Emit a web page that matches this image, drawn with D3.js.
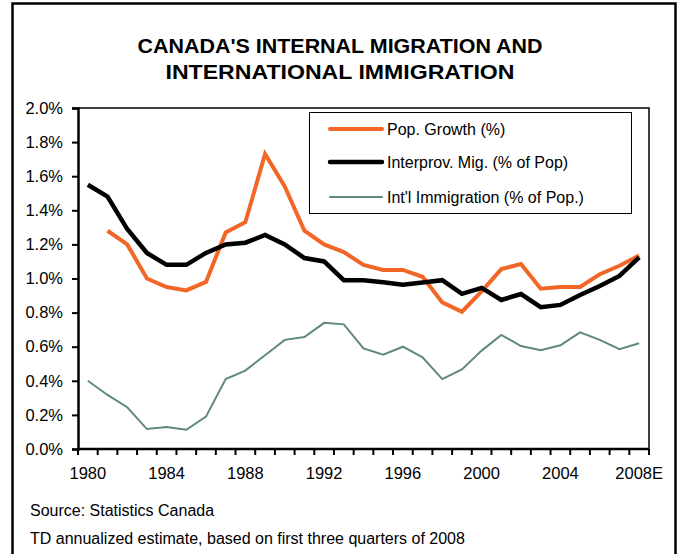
<!DOCTYPE html>
<html>
<head>
<meta charset="utf-8">
<script src="https://cdnjs.cloudflare.com/ajax/libs/d3/7.8.5/d3.min.js"></script>
<style>
  body { margin: 0; background: #fff; }
  svg text { font-family: "Liberation Sans", Arial, sans-serif; }
</style>
</head>
<body>
<div id="chart"></div>
<script>
// years on the x axis (band categories)
const years = d3.range(1980, 2009)
const xLabels = ["1980", "1984", "1988", "1992", "1996", "2000", "2004", "2008E"]
const yTicks = [0, 0.2, 0.4, 0.6, 0.8, 1.0, 1.2, 1.4, 1.6, 1.8, 2.0]

// values in % (null = no data)
const popGrowth = [null, 1.28, 1.20, 1.00, 0.95, 0.93, 0.98, 1.27, 1.33, 1.73, 1.54, 1.28, 1.20,
  1.155, 1.08, 1.05, 1.05, 1.01, 0.86, 0.805, 0.925, 1.055, 1.085, 0.94, 0.95, 0.95, 1.025, 1.075, 1.135]
const interprov = [1.55, 1.48, 1.29, 1.15, 1.08, 1.08, 1.15, 1.20, 1.21, 1.255, 1.20, 1.12, 1.10,
  0.99, 0.99, 0.978, 0.963, 0.977, 0.99, 0.91, 0.945, 0.874, 0.909, 0.832, 0.845, 0.903, 0.956, 1.015, 1.124]
const immigration = [0.40, 0.317, 0.245, 0.117, 0.129, 0.113, 0.19, 0.41, 0.46, 0.55, 0.64, 0.657, 0.74,
  0.731, 0.59, 0.553, 0.60, 0.538, 0.41, 0.467, 0.577, 0.669, 0.604, 0.58, 0.608, 0.684, 0.64, 0.585, 0.62]

const seriesNames = ["Pop. Growth (%)", "Interprov. Mig. (% of Pop)", "Int'l Immigration (% of Pop.)"]
const seriesValues = [popGrowth, interprov, immigration]
const colors = ["#f26726", "#000000", "#5f8a7b"]
const widths = [4, 4.5, 2]

var W = 678, H = 554
var plot = { left: 78, top: 108, right: 649, bottom: 449 }

var svg = d3.select("#chart").append("svg")
  .attr("width", W).attr("height", H)

// outer frame
svg.append("rect")
  .attr("x", 12.5).attr("y", 3.5)
  .attr("width", 663).attr("height", 570)
  .attr("fill", "none").attr("stroke", "#000").attr("stroke-width", 2.5)

// title
svg.append("text").attr("x", 340).attr("y", 53).attr("text-anchor", "middle")
  .attr("font-size", "21px").attr("font-weight", "bold")
  .attr("textLength", 405).attr("lengthAdjust", "spacingAndGlyphs")
  .text("CANADA'S INTERNAL MIGRATION AND")
svg.append("text").attr("x", 340).attr("y", 79).attr("text-anchor", "middle")
  .attr("font-size", "21px").attr("font-weight", "bold")
  .attr("textLength", 349).attr("lengthAdjust", "spacingAndGlyphs")
  .text("INTERNATIONAL IMMIGRATION")

var xScale = d3.scaleBand().domain(years).range([plot.left, plot.right])
var yScale = d3.scaleLinear().domain([0, 2]).range([plot.bottom, plot.top])
var step = xScale.bandwidth()

// plot frame (top & right)
svg.append("path")
  .attr("d", `M${plot.left},${plot.top}H${plot.right}V${plot.bottom}`)
  .attr("fill", "none").attr("stroke", "#000").attr("stroke-width", 1.5)

// y axis
var yAxis = d3.axisLeft(yScale).tickValues(yTicks).tickSize(6)
  .tickFormat(d => d.toFixed(1) + "%")
var gy = svg.append("g").attr("transform", `translate(${plot.left},0)`).call(yAxis)
gy.select(".domain").attr("stroke-width", 2.5)
gy.selectAll(".tick line").attr("stroke-width", 2)
gy.selectAll(".tick text").attr("font-size", "16.5px").attr("fill", "#000").attr("x", -15)
  .attr("font-family", "Liberation Sans, Arial, sans-serif")

// x axis: ticks on category boundaries
var bounds = years.map(y => xScale(y)).concat([plot.right])
var gx = svg.append("g").attr("transform", `translate(0,${plot.bottom})`)
gx.append("line").attr("x1", plot.left).attr("x2", plot.right)
  .attr("stroke", "#000").attr("stroke-width", 2.5)
gx.selectAll("line.tk").data(bounds).enter().append("line").attr("class", "tk")
  .attr("x1", d => d).attr("x2", d => d).attr("y1", 0).attr("y2", 6)
  .attr("stroke", "#000").attr("stroke-width", 2)
gx.selectAll("text").data(xLabels).enter().append("text")
  .attr("x", (d, i) => xScale(years[i * 4]) + step / 2)
  .attr("y", 30)
  .attr("text-anchor", "middle").attr("font-size", "16.5px")
  .text(d => d)

// lines
var linePath = d3.line()
  .defined(d => d[1] != null)
  .x(d => xScale(d[0]) + step / 2)
  .y(d => yScale(d[1]))

var order = [2, 0, 1]
order.forEach(function (s) {
  svg.append("path")
    .attr("d", linePath(years.map((y, i) => [y, seriesValues[s][i]])))
    .attr("fill", "none")
    .attr("stroke", colors[s])
    .attr("stroke-width", widths[s])
    .attr("stroke-linejoin", "miter")
})

// legend
var lg = svg.append("g")
lg.append("rect").attr("x", 309.5).attr("y", 112.5).attr("width", 322).attr("height", 101)
  .attr("fill", "#fff").attr("stroke", "#000").attr("stroke-width", 1)
var rowY = [129, 162, 197]
seriesNames.forEach(function (name, i) {
  lg.append("line").attr("x1", 330).attr("x2", 382).attr("y1", rowY[i]).attr("y2", rowY[i])
    .attr("stroke", colors[i]).attr("stroke-width", widths[i]).attr("stroke-linecap", "round")
  lg.append("text").attr("x", 387).attr("y", rowY[i] + 6)
    .attr("font-size", "16px").text(name)
})

// source notes
svg.append("text").attr("x", 30).attr("y", 516).attr("font-size", "16px")
  .text("Source: Statistics Canada")
svg.append("text").attr("x", 30).attr("y", 544).attr("font-size", "16px")
  .text("TD annualized estimate, based on first three quarters of 2008")
</script>
</body>
</html>
